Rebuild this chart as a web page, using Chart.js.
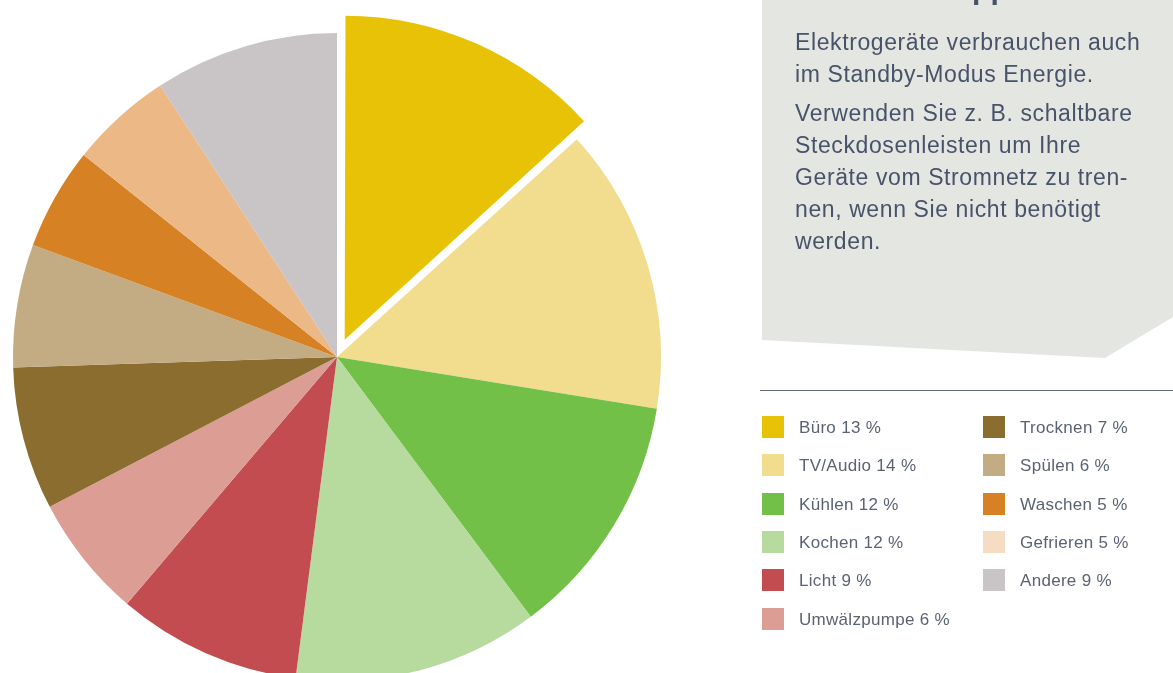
<!DOCTYPE html>
<html>
<head>
<meta charset="utf-8">
<script src="https://cdn.jsdelivr.net/npm/chart.js@4/dist/chart.umd.min.js"></script>
<style>
  html, body { margin: 0; padding: 0; width: 1173px; height: 673px; overflow: hidden; background: #ffffff; }
  #c { position: absolute; left: 0; top: 0; }
  #box { position: absolute; left: 0; top: 0; width: 1173px; height: 673px; pointer-events: none; }
  .txt { position: absolute; left: 795px; font-family: "Liberation Sans", Arial, sans-serif; font-size: 23px; letter-spacing: 0.6px; line-height: 32px; color: #48536a; white-space: nowrap; }
  #head { position: absolute; left: 946px; top: -26px; font-family: "Liberation Sans", Arial, sans-serif; font-weight: bold; font-size: 30px; line-height: 30px; color: #48536a; }
  #rule { position: absolute; left: 760px; top: 390px; width: 413px; height: 0; border-top: 1.5px solid #5f687a; }
  .item { position: absolute; font-family: "Liberation Sans", Arial, sans-serif; font-size: 17px; letter-spacing: 0.3px; color: #5a6374; white-space: nowrap; height: 22px; line-height: 22px; }
  .sw { position: absolute; left: 0; top: 0; width: 22px; height: 22px; }
  .lb { position: absolute; left: 37px; top: 1px; }
</style>
</head>
<body>
<canvas id="c" width="674" height="714"></canvas>
<svg id="box" width="1173" height="673">
  <polygon points="762,0 1173,0 1173,317 1105,358 762,340" fill="#e4e6e1"/>
</svg>
<div id="head">Tipp</div>
<div class="txt" style="top:26px">Elektrogeräte verbrauchen auch<br>im Standby-Modus Energie.</div>
<div class="txt" style="top:97px">Verwenden Sie z. B. schaltbare<br>Steckdosenleisten um Ihre<br>Geräte vom Stromnetz zu tren-<br>nen, wenn Sie nicht benötigt<br>werden.</div>
<div id="rule"></div>
<div id="legend"></div>
<script>
const categories = ["Büro", "TV/Audio", "Kühlen", "Kochen", "Licht", "Umwälzpumpe", "Trocknen", "Spülen", "Waschen", "Gefrieren", "Andere"];
const shares = [13, 14, 12, 12, 9, 6, 7, 6, 5, 5, 9];
const sliceColors = ["#e8c207", "#f2dd8f", "#72c047", "#b7da9e", "#c24c50", "#dc9d94", "#8a6d2f", "#c3ac83", "#d58124", "#ebb886", "#c9c4c6"];
const legendColors = ["#e8c207", "#f2dd8f", "#72c047", "#b7da9e", "#c24c50", "#dc9d94", "#8a6d2f", "#c3ac83", "#d58124", "#f5dcc3", "#c9c4c6"];
// Chart.js v4 moves an arc by offset/4, so 76 gives a ~19px pull-out
const sliceOffsets = [76, 0, 0, 0, 0, 0, 0, 0, 0, 0, 0];

// Chart.js also enlarges an offset arc's radius by (offset/4)*(1-sin(circumference));
// compensate so the pulled-out slice keeps the same radius as the others.
const keepRadius = {
  id: "keepRadius",
  beforeDatasetsDraw(chart) {
    const meta = chart.getDatasetMeta(0);
    meta.data.forEach((arc, i) => {
      const off = (sliceOffsets[i] || 0) / 4;
      if (!off) return;
      const fix = 1 - Math.sin(Math.min(Math.PI, arc.circumference || 0));
      if (arc.$baseOuter === undefined) arc.$baseOuter = arc.outerRadius;
      arc.outerRadius = arc.$baseOuter - off * fix;
    });
  }
};

new Chart(document.getElementById("c"), {
  type: "pie",
  data: {
    labels: categories,
    datasets: [{
      data: shares,
      backgroundColor: sliceColors,
      borderWidth: 0,
      offset: sliceOffsets
    }]
  },
  options: {
    responsive: false,
    animation: false,
    radius: 324,
    layout: { padding: 0 },
    plugins: { legend: { display: false }, tooltip: { enabled: false } }
  },
  plugins: [keepRadius]
});

const legend = document.getElementById("legend");
categories.forEach((name, i) => {
  const col = i < 6 ? 0 : 1;
  const row = i < 6 ? i : i - 6;
  const item = document.createElement("div");
  item.className = "item";
  item.style.left = (col === 0 ? 762 : 983) + "px";
  item.style.top = (416 + row * 38.3) + "px";
  item.innerHTML = '<div class="sw" style="background:' + legendColors[i] + '"></div><div class="lb">' + name + ' ' + shares[i] + ' %</div>';
  legend.appendChild(item);
});
</script>
</body>
</html>
